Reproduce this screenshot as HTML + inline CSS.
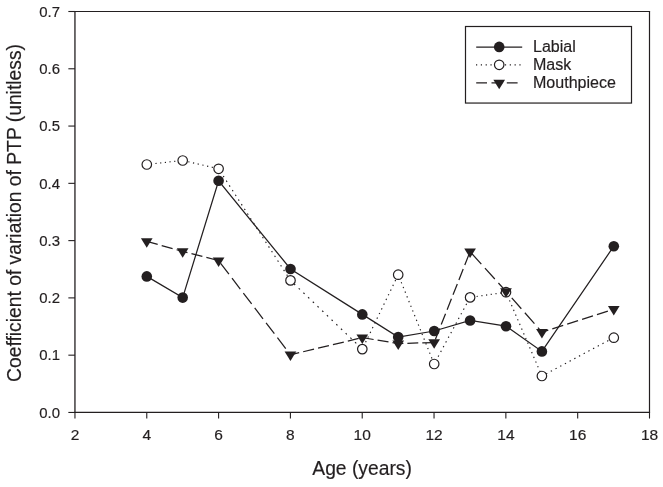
<!DOCTYPE html>
<html><head><meta charset="utf-8"><title>Chart</title>
<style>
html,body{margin:0;padding:0;background:#fff;}
body{width:663px;height:487px;overflow:hidden;}
svg{display:block;will-change:transform;transform:translateZ(0);}
text{font-family:"Liberation Sans",sans-serif;fill:#231f20;stroke:#231f20;stroke-width:0.18px;stroke-linejoin:round;}
.tk{font-size:15.5px;}
.lg{font-size:16.05px;}
.ti{font-size:19.3px;}
</style></head><body>
<svg width="663" height="487" viewBox="0 0 663 487">
<rect x="0" y="0" width="663" height="487" fill="#ffffff"/>
<g stroke="#231f20" stroke-width="1.2" fill="none" stroke-linecap="butt">
<line x1="74.35000000000001" y1="11.5" x2="650.1" y2="11.5"/>
<line x1="74.35000000000001" y1="412.45" x2="650.1" y2="412.45"/>
<line x1="74.95" y1="11.5" x2="74.95" y2="412.45" stroke-width="1.3"/>
<line x1="649.5" y1="11.5" x2="649.5" y2="412.45"/>
</g>
<g stroke="#231f20" stroke-width="1.1" fill="none">
<line x1="68.35" y1="412.45" x2="74.95" y2="412.45"/>
<line x1="68.35" y1="355.17" x2="74.95" y2="355.17"/>
<line x1="68.35" y1="297.89" x2="74.95" y2="297.89"/>
<line x1="68.35" y1="240.61" x2="74.95" y2="240.61"/>
<line x1="68.35" y1="183.34" x2="74.95" y2="183.34"/>
<line x1="68.35" y1="126.06" x2="74.95" y2="126.06"/>
<line x1="68.35" y1="68.78" x2="74.95" y2="68.78"/>
<line x1="68.35" y1="11.50" x2="74.95" y2="11.50"/>
<line x1="74.95" y1="412.45" x2="74.95" y2="418.55"/>
<line x1="146.77" y1="412.45" x2="146.77" y2="418.55"/>
<line x1="218.59" y1="412.45" x2="218.59" y2="418.55"/>
<line x1="290.41" y1="412.45" x2="290.41" y2="418.55"/>
<line x1="362.22" y1="412.45" x2="362.22" y2="418.55"/>
<line x1="434.04" y1="412.45" x2="434.04" y2="418.55"/>
<line x1="505.86" y1="412.45" x2="505.86" y2="418.55"/>
<line x1="577.68" y1="412.45" x2="577.68" y2="418.55"/>
<line x1="649.50" y1="412.45" x2="649.50" y2="418.55"/>
</g>
<text class="tk" transform="translate(60.0,417.6) scale(0.965,1)" text-anchor="end">0.0</text>
<text class="tk" transform="translate(60.0,360.4) scale(0.965,1)" text-anchor="end">0.1</text>
<text class="tk" transform="translate(60.0,303.1) scale(0.965,1)" text-anchor="end">0.2</text>
<text class="tk" transform="translate(60.0,245.8) scale(0.965,1)" text-anchor="end">0.3</text>
<text class="tk" transform="translate(60.0,188.5) scale(0.965,1)" text-anchor="end">0.4</text>
<text class="tk" transform="translate(60.0,131.3) scale(0.965,1)" text-anchor="end">0.5</text>
<text class="tk" transform="translate(60.0,74.0) scale(0.965,1)" text-anchor="end">0.6</text>
<text class="tk" transform="translate(60.0,16.7) scale(0.965,1)" text-anchor="end">0.7</text>
<text class="tk" transform="translate(75.0,440.3)" text-anchor="middle">2</text>
<text class="tk" transform="translate(146.8,440.3)" text-anchor="middle">4</text>
<text class="tk" transform="translate(218.6,440.3)" text-anchor="middle">6</text>
<text class="tk" transform="translate(290.4,440.3)" text-anchor="middle">8</text>
<text class="tk" transform="translate(362.2,440.3)" text-anchor="middle">10</text>
<text class="tk" transform="translate(434.0,440.3)" text-anchor="middle">12</text>
<text class="tk" transform="translate(505.9,440.3)" text-anchor="middle">14</text>
<text class="tk" transform="translate(577.7,440.3)" text-anchor="middle">16</text>
<text class="tk" transform="translate(649.5,440.3)" text-anchor="middle">18</text>
<text class="ti" transform="translate(362.1,474.8)" text-anchor="middle">Age (years)</text>
<text class="ti" transform="translate(21.0,213.0) rotate(-90)" text-anchor="middle">Coefficient of variation of PTP (unitless)</text>
<g>
<polyline points="146.8,276.4 182.7,297.6 218.6,180.8 290.5,269.0 362.3,314.4 398.2,337.1 434.2,331.0 470.1,320.5 506.0,326.2 541.9,351.4 613.8,246.2" fill="none" stroke="#231f20" stroke-width="1.25"/>
<circle cx="146.8" cy="276.4" r="5.3" fill="#231f20"/>
<circle cx="182.7" cy="297.6" r="5.3" fill="#231f20"/>
<circle cx="218.6" cy="180.8" r="5.3" fill="#231f20"/>
<circle cx="290.5" cy="269.0" r="5.3" fill="#231f20"/>
<circle cx="362.3" cy="314.4" r="5.3" fill="#231f20"/>
<circle cx="398.2" cy="337.1" r="5.3" fill="#231f20"/>
<circle cx="434.2" cy="331.0" r="5.3" fill="#231f20"/>
<circle cx="470.1" cy="320.5" r="5.3" fill="#231f20"/>
<circle cx="506.0" cy="326.2" r="5.3" fill="#231f20"/>
<circle cx="541.9" cy="351.4" r="5.3" fill="#231f20"/>
<circle cx="613.8" cy="246.2" r="5.3" fill="#231f20"/>
</g><g>
<path d="M146.75,164.46L147.21,164.41M150.71,164.02L151.91,163.89M155.40,163.50L156.60,163.36M160.09,162.97L161.29,162.84M164.79,162.45L165.99,162.32M169.49,161.93L170.69,161.79M174.18,161.40L175.38,161.27M178.88,160.88L180.07,160.74M183.57,160.66L184.77,160.94M188.27,161.75L189.47,162.02M192.96,162.83L194.16,163.11M197.66,163.92L198.86,164.19M202.35,165.00L203.55,165.28M207.05,166.09L208.25,166.36M211.74,167.17L212.94,167.45M216.44,168.26L217.64,168.53M220.23,171.29L221.00,172.49M223.25,175.98L224.02,177.18M226.27,180.68L227.04,181.88M229.29,185.37L230.06,186.57M232.31,190.07L233.09,191.27M235.33,194.76L236.11,195.96M238.36,199.46L239.13,200.66M241.38,204.15L242.15,205.35M244.40,208.85L245.17,210.05M247.42,213.54L248.19,214.74M250.44,218.24L251.21,219.44M253.46,222.93L254.23,224.13M256.48,227.63L257.26,228.83M259.51,232.32L260.28,233.52M262.53,237.02L263.30,238.22M265.55,241.71L266.32,242.91M268.57,246.41L269.34,247.61M271.59,251.10L272.36,252.30M274.61,255.80L275.38,257.00M277.63,260.49L278.41,261.69M280.65,265.19L281.43,266.39M283.68,269.88L284.45,271.08M286.70,274.58L287.47,275.78M289.72,279.27L290.45,280.41M290.45,280.41L290.51,280.47M294.01,283.81L295.21,284.96M298.70,288.30L299.90,289.45M303.40,292.79L304.60,293.94M308.09,297.28L309.29,298.43M312.79,301.77L313.99,302.92M317.48,306.26L318.68,307.41M322.18,310.75L323.38,311.90M326.87,315.24L328.07,316.39M331.57,319.73L332.77,320.88M336.26,324.22L337.46,325.37M340.96,328.71L342.16,329.86M345.65,333.20L346.85,334.35M350.35,337.69L351.55,338.84M355.04,342.18L356.24,343.33M359.74,346.67L360.94,347.82M363.33,346.98L363.91,345.78M365.60,342.29L366.17,341.09M367.86,337.59L368.44,336.39M370.13,332.90L370.71,331.70M372.39,328.20L372.97,327.00M374.66,323.51L375.24,322.31M376.93,318.81L377.50,317.61M379.19,314.12L379.77,312.92M381.46,309.42L382.04,308.22M383.72,304.73L384.30,303.53M385.99,300.03L386.57,298.83M388.26,295.34L388.83,294.14M390.52,290.64L391.10,289.44M392.79,285.95L393.37,284.75M395.05,281.25L395.63,280.05M397.32,276.56L397.90,275.36M399.36,277.50L399.84,278.70M401.25,282.20L401.73,283.40M403.14,286.89L403.62,288.09M405.02,291.59L405.51,292.79M406.91,296.28L407.39,297.48M408.80,300.98L409.28,302.18M410.69,305.67L411.17,306.87M412.58,310.37L413.06,311.57M414.47,315.06L414.95,316.26M416.35,319.76L416.84,320.96M418.24,324.45L418.72,325.65M420.13,329.15L420.61,330.35M422.02,333.84L422.50,335.04M423.91,338.54L424.39,339.74M425.80,343.23L426.28,344.43M427.68,347.93L428.17,349.13M429.57,352.62L430.05,353.82M431.46,357.32L431.94,358.52M433.35,362.01L433.83,363.21M435.61,361.30L436.26,360.10M438.14,356.61L438.79,355.41M440.67,351.91L441.32,350.71M443.21,347.22L443.85,346.02M445.74,342.52L446.39,341.32M448.27,337.83L448.92,336.63M450.81,333.13L451.45,331.93M453.34,328.44L453.99,327.24M455.87,323.74L456.52,322.54M458.40,319.05L459.05,317.85M460.94,314.35L461.59,313.15M463.47,309.66L464.12,308.46M466.00,304.96L466.65,303.76M468.54,300.27L469.18,299.07M471.92,297.15L473.12,296.97M476.61,296.47L477.81,296.29M481.31,295.78L482.51,295.61M486.00,295.10L487.20,294.93M490.70,294.42L491.90,294.25M495.39,293.74L496.59,293.57M500.09,293.06L501.29,292.89M504.78,292.38L505.98,292.21M507.49,295.68L508.00,296.88M509.50,300.38L510.02,301.58M511.51,305.07L512.03,306.27M513.53,309.77L514.04,310.97M515.54,314.46L516.05,315.66M517.55,319.16L518.07,320.36M519.56,323.85L520.08,325.05M521.58,328.55L522.09,329.75M523.59,333.24L524.10,334.44M525.60,337.94L526.11,339.14M527.61,342.63L528.13,343.83M529.62,347.33L530.14,348.53M531.64,352.02L532.15,353.22M533.65,356.72L534.16,357.92M535.66,361.41L536.18,362.61M537.67,366.11L538.19,367.31M539.69,370.80L540.20,372.00M541.70,375.50L541.93,376.03M541.93,376.03L542.59,375.67M546.09,373.80L547.29,373.16M550.78,371.30L551.98,370.66M555.48,368.79L556.68,368.15M560.17,366.28L561.37,365.64M564.87,363.78L566.07,363.14M569.56,361.27L570.76,360.63M574.26,358.76L575.46,358.12M578.95,356.26L580.15,355.62M583.65,353.75L584.85,353.11M588.34,351.24L589.54,350.60M593.04,348.74L594.24,348.10M597.73,346.23L598.93,345.59M602.43,343.72L603.63,343.08M607.12,341.22L608.32,340.58M611.82,338.71L613.02,338.07" fill="none" stroke="#231f20" stroke-width="1.15"/>
<circle cx="146.8" cy="164.5" r="4.75" fill="#fff" stroke="#231f20" stroke-width="1.2"/>
<circle cx="182.7" cy="160.5" r="4.75" fill="#fff" stroke="#231f20" stroke-width="1.2"/>
<circle cx="218.6" cy="168.8" r="4.75" fill="#fff" stroke="#231f20" stroke-width="1.2"/>
<circle cx="290.5" cy="280.4" r="4.75" fill="#fff" stroke="#231f20" stroke-width="1.2"/>
<circle cx="362.3" cy="349.1" r="4.75" fill="#fff" stroke="#231f20" stroke-width="1.2"/>
<circle cx="398.2" cy="274.7" r="4.75" fill="#fff" stroke="#231f20" stroke-width="1.2"/>
<circle cx="434.2" cy="364.0" r="4.75" fill="#fff" stroke="#231f20" stroke-width="1.2"/>
<circle cx="470.1" cy="297.4" r="4.75" fill="#fff" stroke="#231f20" stroke-width="1.2"/>
<circle cx="506.0" cy="292.2" r="4.75" fill="#fff" stroke="#231f20" stroke-width="1.2"/>
<circle cx="541.9" cy="376.0" r="4.75" fill="#fff" stroke="#231f20" stroke-width="1.2"/>
<circle cx="613.8" cy="337.7" r="4.75" fill="#fff" stroke="#231f20" stroke-width="1.2"/>
</g><g>
<path d="M146.81,241.43L157.70,244.47M161.70,245.59L172.59,248.62M176.59,249.74L182.68,251.44M182.68,251.44L187.48,252.66M191.48,253.68L202.37,256.46M206.37,257.48L217.26,260.26M220.63,263.26L228.94,274.15M231.99,278.15L240.30,289.04M243.35,293.04L251.65,303.93M254.71,307.93L263.01,318.82M266.06,322.82L274.37,333.71M277.42,337.71L285.73,348.60M288.78,352.60L290.45,354.79M290.45,354.79L299.15,352.71M303.15,351.75L314.04,349.15M318.04,348.19L328.93,345.59M332.93,344.63L343.82,342.03M347.82,341.07L358.71,338.47M362.71,337.68L373.60,339.50M377.60,340.17L388.49,341.99M392.49,342.66L398.23,343.62M398.23,343.62L403.38,343.46M407.38,343.33L418.27,342.98M422.27,342.85L433.16,342.51M435.34,339.46L439.65,328.57M441.23,324.57L445.54,313.68M447.12,309.68L451.43,298.79M453.01,294.79L457.32,283.90M458.90,279.90L463.21,269.01M464.79,265.01L469.10,254.12M471.47,253.21L481.33,264.10M484.95,268.10L494.81,278.99M498.43,282.99L506.00,291.34M506.00,291.34L508.23,293.88M511.75,297.88L521.33,308.77M524.85,312.77L534.44,323.66M537.96,327.66L541.93,332.17M541.93,332.17L548.30,330.14M552.30,328.86L563.19,325.39M567.19,324.11L578.08,320.64M582.08,319.37L592.97,315.90M596.97,314.62L607.86,311.15M611.86,309.88L613.78,309.27" fill="none" stroke="#231f20" stroke-width="1.25"/>
<polygon points="140.90,238.25 152.60,238.25 146.75,247.75" fill="#231f20"/>
<polygon points="176.83,248.27 188.53,248.27 182.68,257.77" fill="#231f20"/>
<polygon points="212.75,257.43 224.45,257.43 218.60,266.93" fill="#231f20"/>
<polygon points="284.60,351.62 296.30,351.62 290.45,361.12" fill="#231f20"/>
<polygon points="356.45,334.44 368.15,334.44 362.30,343.94" fill="#231f20"/>
<polygon points="392.38,340.45 404.08,340.45 398.23,349.95" fill="#231f20"/>
<polygon points="428.30,339.31 440.00,339.31 434.15,348.81" fill="#231f20"/>
<polygon points="464.23,248.50 475.93,248.50 470.08,258.00" fill="#231f20"/>
<polygon points="500.15,288.18 511.85,288.18 506.00,297.68" fill="#231f20"/>
<polygon points="536.08,329.00 547.78,329.00 541.93,338.50" fill="#231f20"/>
<polygon points="607.93,306.10 619.63,306.10 613.78,315.60" fill="#231f20"/>
</g>
<rect x="465.5" y="26.5" width="166" height="76.55" fill="#fff" stroke="#231f20" stroke-width="1.2"/>
<line x1="476.2" y1="47.0" x2="522.2" y2="47.0" stroke="#231f20" stroke-width="1.25"/>
<circle cx="499.2" cy="46.9" r="5.3" fill="#231f20"/>
<line x1="476.0" y1="64.8" x2="521.5" y2="64.8" stroke="#231f20" stroke-width="1.15" stroke-dasharray="1.2 3.62"/>
<circle cx="499.2" cy="64.8" r="4.75" fill="#fff" stroke="#231f20" stroke-width="1.2"/>
<line x1="476.2" y1="82.9" x2="521.9" y2="82.9" stroke="#231f20" stroke-width="1.25" stroke-dasharray="10.8 4.5"/>
<polygon points="493.35,79.73 505.05,79.73 499.20,89.23" fill="#231f20"/>
<text class="lg" x="533" y="51.9">Labial</text>
<text class="lg" x="533" y="69.6">Mask</text>
<text class="lg" x="533" y="87.5">Mouthpiece</text>
</svg></body></html>
